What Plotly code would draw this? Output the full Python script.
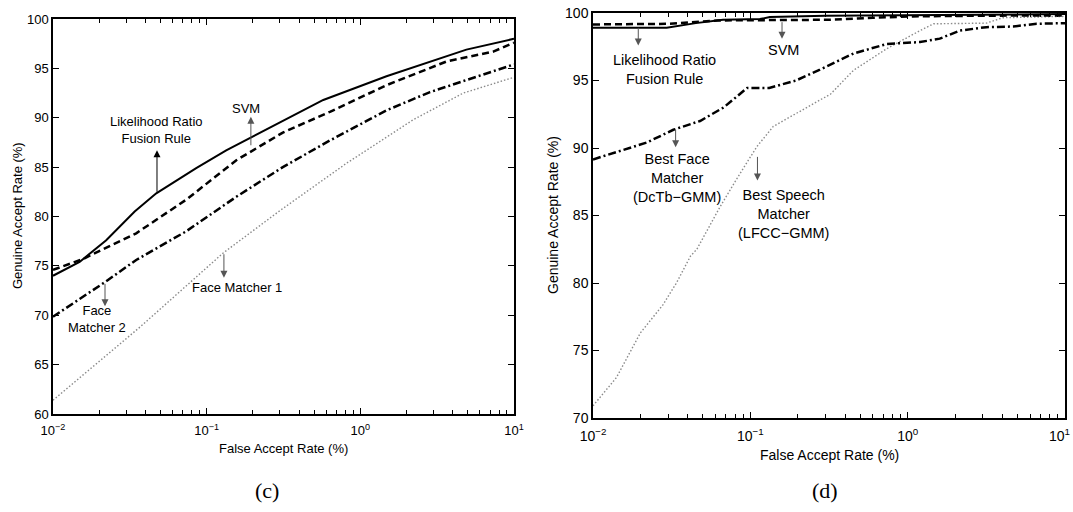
import numpy as np
import plotly.graph_objects as go

# ---------------- Panel (c) ----------------
far_c_lr = [0.01, 0.0149, 0.0222, 0.034, 0.047, 0.057, 0.0855, 0.134, 0.2, 0.313, 0.574, 1.48, 2.84, 4.9, 10]
gar_c_lr = [74.0, 75.4, 77.6, 80.5, 82.35, 83.2, 84.9, 86.7, 88.1, 89.7, 91.8, 94.2, 95.7, 96.9, 98.0]

far_c_svm = [0.01, 0.0157, 0.0348, 0.0736, 0.156, 0.313, 0.634, 1.48, 3.64, 7.33, 10]
gar_c_svm = [74.6, 75.7, 78.3, 81.7, 85.7, 88.5, 90.6, 93.3, 95.7, 96.7, 97.6]

far_c_face2 = [0.01, 0.022, 0.0348, 0.0736, 0.156, 0.313, 0.634, 1.48, 2.84, 6.0, 10]
gar_c_face2 = [69.85, 73.4, 75.6, 78.5, 82.0, 85.0, 87.7, 90.75, 92.6, 94.3, 95.4]

far_c_face1 = [0.01, 0.0368, 0.128, 0.3, 0.815, 2.21, 4.68, 10]
gar_c_face1 = [61.4, 68.8, 76.3, 80.6, 85.4, 89.8, 92.5, 94.1]

# ---------------- Panel (d) ----------------
far_d_lr = [0.01, 0.0294, 0.045, 0.067, 0.115, 0.133, 0.3, 1, 3, 10]
gar_d_lr = [98.9, 98.9, 99.25, 99.5, 99.55, 99.7, 99.8, 99.85, 99.9, 99.92]

far_d_svm = [0.01, 0.03, 0.062, 0.15, 0.32, 0.6, 1.07, 3, 10]
gar_d_svm = [99.15, 99.2, 99.45, 99.45, 99.5, 99.65, 99.75, 99.8, 99.82]

far_d_face = [0.01, 0.0219, 0.0324, 0.0479, 0.0676, 0.0955, 0.132, 0.195, 0.277,
              0.452, 0.735, 1.2, 1.6, 2.15, 3.16, 4.68, 6.6, 10]
gar_d_face = [89.15, 90.4, 91.35, 92.0, 93.0, 94.45, 94.45, 95.0, 95.8,
              97.0, 97.7, 97.85, 98.1, 98.7, 98.95, 99.0, 99.2, 99.25]

far_d_speech = [0.01, 0.0141, 0.02, 0.0279, 0.0339, 0.0417, 0.0457, 0.0646, 0.0818,
                0.11, 0.14, 0.178, 0.324, 0.452, 0.735, 1.2, 1.46, 3.16, 4.03, 10]
gar_d_speech = [70.9, 73.0, 76.3, 78.4, 80.0, 82.0, 82.5, 85.7, 87.7,
                90.1, 91.6, 92.3, 94.0, 95.75, 97.35, 98.7, 99.2, 99.25, 99.65, 99.75]

x_tickvals = [0.01, 0.1, 1, 10]
x_ticktext = ["10<sup>\u22122</sup>", "10<sup>\u22121</sup>", "10<sup>0</sup>", "10<sup>1</sup>"]
x_minor = [m * 10.0 ** e for e in (-2, -1, 0) for m in range(2, 10)]

SANS = "Liberation Sans, Arial, Helvetica, sans-serif"
SERIF = "Liberation Serif, Times New Roman, serif"

STYLE = {
    "solid": dict(color="black", width=2, dash="solid"),
    "dash": dict(color="black", width=2.5, dash="7px,4px"),
    "dashdot": dict(color="black", width=2.5, dash="8px,3px,2px,3px"),
    "dot": dict(color="#8a8a8a", width=1.4, dash="1.5px,2px"),
}

fig = go.Figure()


def add_curve(far, gar, style, xa, ya, name):
    fig.add_trace(go.Scatter(x=far, y=gar, mode="lines", name=name,
                             line=STYLE[style], xaxis=xa, yaxis=ya,
                             showlegend=False, hoverinfo="x+y"))


add_curve(far_c_face1, gar_c_face1, "dot", "x", "y", "Face Matcher 1")
add_curve(far_c_face2, gar_c_face2, "dashdot", "x", "y", "Face Matcher 2")
add_curve(far_c_svm, gar_c_svm, "dash", "x", "y", "SVM")
add_curve(far_c_lr, gar_c_lr, "solid", "x", "y", "Likelihood Ratio Fusion Rule")

add_curve(far_d_speech, gar_d_speech, "dot", "x2", "y2", "Best Speech Matcher")
add_curve(far_d_face, gar_d_face, "dashdot", "x2", "y2", "Best Face Matcher")
add_curve(far_d_lr, gar_d_lr, "solid", "x2", "y2", "Likelihood Ratio Fusion Rule")
add_curve(far_d_svm, gar_d_svm, "dash", "x2", "y2", "SVM")


def x_axis(domain, anchor, fsize, ntext):
    return dict(domain=domain, anchor=anchor, type="log", range=[-2, 1],
                tickvals=x_tickvals[:ntext], ticktext=x_ticktext[:ntext],
                ticks="inside", ticklen=6, tickwidth=1.2, tickcolor="black",
                minor=dict(tickvals=x_minor + [10], ticks="inside", ticklen=4,
                           tickwidth=1, tickcolor="black"),
                showline=True, linecolor="black", linewidth=1.5, mirror="ticks",
                showgrid=False, zeroline=False, automargin=False,
                ticklabelstandoff=4,
                tickfont=dict(family=SANS, size=fsize, color="black"))


def y_axis(domain, anchor, rng, fsize):
    return dict(domain=domain, anchor=anchor, range=rng,
                tickvals=list(range(rng[0], rng[1] + 1, 5)),
                ticks="inside", ticklen=6, tickwidth=1.2, tickcolor="black",
                showline=True, linecolor="black", linewidth=1.5, mirror="ticks",
                showgrid=False, zeroline=False, automargin=False,
                tickfont=dict(family=SANS, size=fsize, color="black"))


W, H = 1073, 512

fig.update_layout(
    width=W, height=H,
    margin=dict(l=0, r=0, t=0, b=0),
    paper_bgcolor="white", plot_bgcolor="white",
    xaxis=x_axis([53 / W, 514 / W], "y", 13, 4),
    yaxis=y_axis([1 - 414 / H, 1 - 19 / H], "x", [60, 100], 13),
    # the last decade label of the right panel sits at the page edge; it is added below
    xaxis2=x_axis([593 / W, 1065 / W], "y2", 14, 3),
    yaxis2=y_axis([1 - 418 / H, 1 - 13 / H], "x2", [70, 100], 14),
)

ann = []


def label(text, far, gar, xr, yr, size):
    ann.append(dict(text=text, x=np.log10(far), y=gar, xref=xr, yref=yr,
                    showarrow=False, align="center",
                    font=dict(family=SANS, size=size, color="black")))


def pointer(far, gar, ay, xr, yr, color="#555555"):
    # arrow head at (far, gar); tail lies ay pixels away on the curve
    ann.append(dict(text="", x=np.log10(far), y=gar, xref=xr, yref=yr,
                    showarrow=True, ax=0, ay=ay, arrowhead=2, arrowsize=1.4,
                    arrowwidth=1, arrowcolor=color, standoff=0, startstandoff=0))


# panel (c) labels
label("Likelihood Ratio<br>Fusion Rule", 0.0475, 88.8, "x", "y", 13)
pointer(0.0475, 86.7, 43, "x", "y", color="black")
label("SVM", 0.1795, 90.9, "x", "y", 13)
pointer(0.194, 90.1, 30, "x", "y")
label("Face<br>Matcher 2", 0.0193, 69.6, "x", "y", 13)
pointer(0.0218, 70.9, -24, "x", "y")
label("Face Matcher 1", 0.157, 72.8, "x", "y", 13)
pointer(0.1295, 73.8, -25, "x", "y")

# panel (d) labels
label("Likelihood Ratio<br>Fusion Rule", 0.0286, 95.84, "x2", "y2", 14.5)
pointer(0.0194, 97.6, -19, "x2", "y2")
label("SVM", 0.163, 97.23, "x2", "y2", 14.5)
pointer(0.159, 98.1, -18, "x2", "y2")
label("Best Face<br>Matcher<br>(DcTb\u2212GMM)", 0.034, 87.75, "x2", "y2", 14.5)
pointer(0.0335, 90.06, -19, "x2", "y2")
label("Best Speech<br>Matcher<br>(LFCC\u2212GMM)", 0.162, 85.14, "x2", "y2", 14.5)
pointer(0.111, 87.6, -25, "x2", "y2")

# right panel: label of the 10^1 tick, kept inside the page's right edge
ann.append(dict(text=x_ticktext[3], x=1.0, y=1 - 418 / H, xref="paper", yref="paper",
                showarrow=False, xanchor="right", yanchor="top", yshift=-6, xshift=-1,
                font=dict(family=SANS, size=14, color="black")))

# axis titles
for x0, y0, s in ((283, 448, 13), (829, 455, 14)):
    ann.append(dict(text="False Accept Rate (%)", x=x0 / W, y=1 - y0 / H,
                    xref="paper", yref="paper", showarrow=False,
                    xanchor="center", yanchor="middle",
                    font=dict(family=SANS, size=s, color="black")))
for x0, y0, s in ((17, 216, 13), (553, 215, 14)):
    ann.append(dict(text="Genuine Accept Rate (%)", x=x0 / W, y=1 - y0 / H,
                    xref="paper", yref="paper", showarrow=False, textangle=-90,
                    xanchor="center", yanchor="middle",
                    font=dict(family=SANS, size=s, color="black")))

# sub-figure captions
for x0, txt in ((267, "(c)"), (825, "(d)")):
    ann.append(dict(text=txt, x=x0 / W, y=1 - 490 / H, xref="paper", yref="paper",
                    showarrow=False, xanchor="center", yanchor="middle",
                    font=dict(family=SERIF, size=22, color="black")))

fig.update_layout(annotations=ann)
fig.write_html("out.html")
